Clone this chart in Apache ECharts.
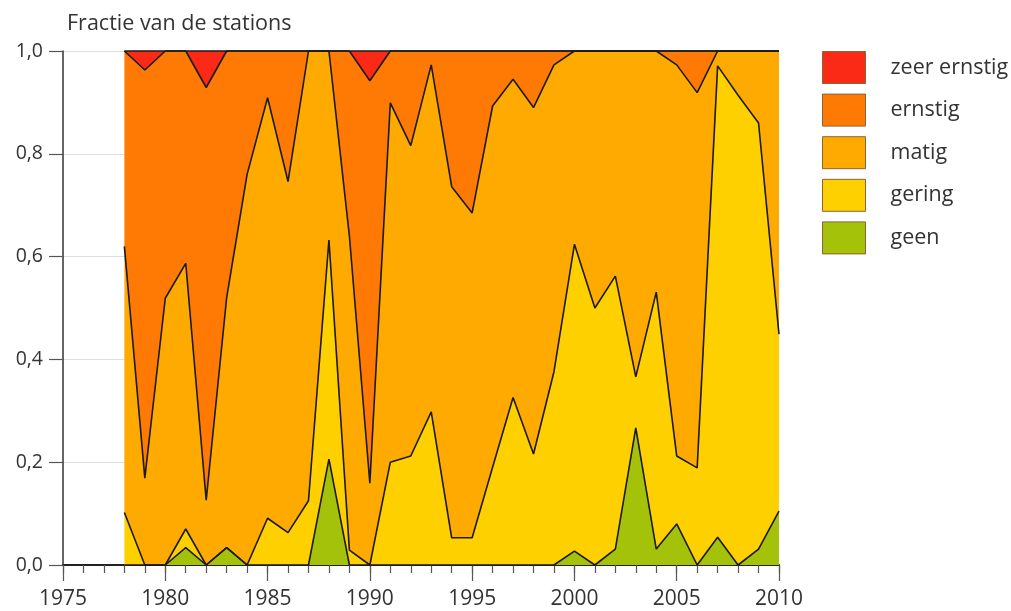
<!DOCTYPE html>
<html>
<head>
<meta charset="utf-8">
<script src="https://cdn.jsdelivr.net/npm/echarts@6/dist/echarts.min.js"></script>
<style>
html,body{margin:0;padding:0;background:#fff;}
#chart{width:1011px;height:611px;}
</style>
</head>
<body>
<div id="chart"></div>
<script>
// Axis categories (years on the x axis)
var axisYears = ['1975','1976','1977','1978','1979','1980','1981','1982','1983','1984','1985','1986','1987','1988','1989','1990','1991','1992','1993','1994','1995','1996','1997','1998','1999','2000','2001','2002','2003','2004','2005','2006','2007','2008','2009','2010'];
// Years with data: 1978 .. 2010 (the first three axis years are empty)
var emptyYears = [null, null, null];

// Fraction of stations per category, 1978..2010 (stacked to 1.0)
var geen = [0,0,0,0.034,0,0.034,0,0,0,0,0.206,0,0,0,0,0,0,0,0,0,0,0,0.027,0,0.031,0.267,0.031,0.08,0,0.054,0,0.031,0.105];
var gering = [0.102,0,0,0.036,0,0,0,0.091,0.063,0.125,0.426,0.029,0,0.2,0.212,0.298,0.053,0.053,0.19,0.326,0.216,0.376,0.597,0.5,0.531,0.099,0.5,0.132,0.189,0.917,0.914,0.829,0.344];
var matig = [0.518,0.169,0.519,0.517,0.126,0.486,0.76,0.818,0.683,0.875,0.368,0.611,0.159,0.699,0.604,0.675,0.683,0.632,0.703,0.619,0.674,0.597,0.376,0.5,0.438,0.634,0.469,0.761,0.73,0.029,0.086,0.14,0.551];
var ernstig = [0.38,0.794,0.481,0.413,0.803,0.48,0.24,0.091,0.254,0,0,0.36,0.783,0.101,0.184,0.027,0.264,0.315,0.107,0.055,0.11,0.027,0,0,0,0,0,0.027,0.081,0,0,0,0];
var zeerErnstig = [0,0.037,0,0,0.071,0,0,0,0,0,0,0,0.058,0,0,0,0,0,0,0,0,0,0,0,0,0,0,0,0,0,0,0,0];

var seriesNames = ['geen','gering','matig','ernstig','zeer ernstig'];
var seriesValues = [geen, gering, matig, ernstig, zeerErnstig];
var seriesColors = ['#a5c20a','#ffd000','#ffaa00','#ff7a05','#fa2a16'];
var legendOrder = ['zeer ernstig','ernstig','matig','gering','geen'];

function padded(vals){ return emptyYears.concat(vals); }

var series = [];
seriesNames.forEach(function(n,i){
  series.push({
    name: n, type: 'line', stack: 'areas', data: padded(seriesValues[i]),
    showSymbol: false, symbol: 'none', z: 2,
    lineStyle: {width: 0, color: seriesColors[i]},
    itemStyle: {color: seriesColors[i]},
    areaStyle: {color: seriesColors[i], opacity: 1}
  });
});
seriesNames.forEach(function(n,i){
  series.push({
    name: 'lijn ' + n, type: 'line', stack: 'lines', data: padded(seriesValues[i]),
    showSymbol: false, symbol: 'none', z: 3, clip: false,
    lineStyle: {width: 1.6, color: '#1a1a1a'},
    itemStyle: {color: '#1a1a1a'}
  });
});

function every5(i){ return i % 5 === 0; }

var chart = echarts.init(document.getElementById('chart'), null, {renderer: 'canvas'});
chart.setOption({
  animation: false,
  backgroundColor: '#ffffff',
  textStyle: {fontFamily: 'Open Sans'},
  title: {
    text: 'Fractie van de stations', left: 62, top: 8,
    textStyle: {fontFamily: 'Open Sans', fontSize: 21.5, fontWeight: 'normal', color: '#333'}
  },
  legend: {
    orient: 'vertical', left: 817, top: 46,
    itemWidth: 43, itemHeight: 32, itemGap: 9.6, icon: 'rect',
    textStyle: {fontFamily: 'Open Sans', fontSize: 21.5, color: '#333', padding: [0,0,0,20]},
    data: legendOrder.map(function(n){ return {name: n, itemStyle: {borderColor: '#8a6432', borderWidth: 1}}; }),
    selectedMode: false
  },
  tooltip: {show: false},
  grid: {left: 63, top: 51, width: 716, height: 514, containLabel: false},
  xAxis: [{
    type: 'category', data: axisYears, boundaryGap: false,
    axisLine: {show: true, onZero: false, lineStyle: {color: '#222', width: 2}},
    axisTick: {show: true, length: 16, interval: every5, lineStyle: {color: '#555', width: 1.2}},
    splitLine: {show: false},
    axisLabel: {fontFamily: 'Open Sans', fontSize: 21, color: '#333', margin: 24, interval: every5}
  }, {
    type: 'category', data: axisYears, boundaryGap: false, position: 'bottom',
    axisLine: {show: false},
    axisTick: {show: true, length: 8, interval: 0, lineStyle: {color: '#555', width: 1.2}},
    axisLabel: {show: false},
    splitLine: {show: false}
  }],
  yAxis: {
    type: 'value', min: 0, max: 1, interval: 0.2,
    axisLine: {show: true, lineStyle: {color: '#333', width: 1.5}},
    axisTick: {show: true, length: 14, lineStyle: {color: '#555', width: 1.2}},
    splitLine: {show: true, lineStyle: {color: '#dddddd', width: 1}},
    axisLabel: {fontFamily: 'Open Sans', fontSize: 19.5, color: '#333', margin: 20,
      formatter: function(v){ return v.toFixed(1).replace('.', ','); }}
  },
  series: series
});
</script>
</body>
</html>
